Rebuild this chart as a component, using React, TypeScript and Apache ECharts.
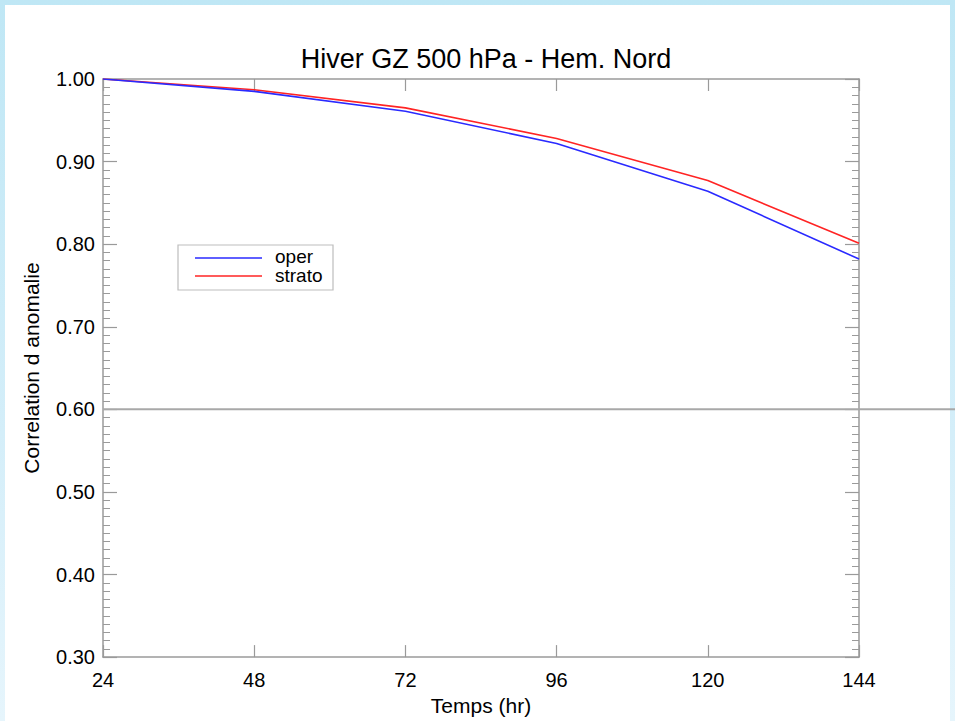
import React, { useEffect, useRef } from "react";
import * as echarts from "echarts";

const hours = [24, 48, 72, 96, 120, 144];
const operValues = [1.0, 0.985, 0.961, 0.922, 0.864, 0.782];
const stratoValues = [1.0, 0.987, 0.965, 0.928, 0.877, 0.801];
const seriesNames = ["oper", "strato"];
const titleText = "Hiver GZ 500 hPa - Hem. Nord";
const xName = "Temps (hr)";
const yName = "Correlation d anomalie";
const refLineValue = 0.6;

const FONT = "'Liberation Sans', Arial, Helvetica, sans-serif";
const AXIS_GRAY = "#9a9a9a";

export default function App() {
  const ref = useRef<HTMLDivElement>(null);

  useEffect(() => {
    if (!ref.current) return;
    const chart = echarts.init(ref.current, undefined, { renderer: "svg" });

    const yCommon = {
      type: "value" as const,
      min: 0.3,
      max: 1.0,
      interval: 0.1,
      splitLine: { show: false },
      axisLine: { show: true, lineStyle: { color: AXIS_GRAY, width: 1.5 } },
      axisTick: { show: true, inside: true, length: 14, lineStyle: { color: AXIS_GRAY, width: 1.2 } },
      minorTick: { show: true, splitNumber: 10, length: 7, lineStyle: { color: AXIS_GRAY, width: 1 } },
      minorSplitLine: { show: false },
    };
    const xCommon = {
      type: "value" as const,
      min: 24,
      max: 144,
      interval: 24,
      splitLine: { show: false },
      axisLine: { show: true, lineStyle: { color: AXIS_GRAY, width: 1.5 } },
      axisTick: { show: true, inside: true, length: 12, lineStyle: { color: AXIS_GRAY, width: 1.2 } },
    };

    const data = (vals: number[]) => hours.map((h, i) => [h, vals[i]]);

    const baseGraphic: any[] = [
      {
        type: "rect",
        z: -10,
        silent: true,
        shape: { x: 5, y: 5, width: 945, height: 716 },
        style: { fill: "#ffffff" },
      },
      {
        type: "rect",
        z: 50,
        shape: { x: 178, y: 245, width: 155, height: 45 },
        style: { fill: "#ffffff", stroke: "#bdbdbd", lineWidth: 1.2 },
      },
      {
        type: "line",
        z: 51,
        shape: { x1: 195, y1: 258, x2: 262, y2: 258 },
        style: { stroke: "#2a2aff", lineWidth: 1.6 },
      },
      {
        type: "line",
        z: 51,
        shape: { x1: 195, y1: 276, x2: 262, y2: 276 },
        style: { stroke: "#ff2424", lineWidth: 1.6 },
      },
      {
        type: "text",
        z: 51,
        x: 275,
        y: 256,
        style: {
          text: seriesNames[0],
          fill: "#000",
          font: `19px ${FONT}`,
          verticalAlign: "middle",
          align: "left",
        },
      },
      {
        type: "text",
        z: 51,
        x: 275,
        y: 275.5,
        style: {
          text: seriesNames[1],
          fill: "#000",
          font: `19px ${FONT}`,
          verticalAlign: "middle",
          align: "left",
        },
      },
    ];

    chart.setOption({
      animation: false,
      backgroundColor: "transparent",
      textStyle: { fontFamily: FONT },
      title: {
        text: titleText,
        left: 481,
        top: 40,
        textAlign: "center",
        textStyle: { fontFamily: FONT, fontSize: 27, fontWeight: "normal", color: "#000" },
      },
      grid: { left: 103, right: 96, top: 79, bottom: 56, containLabel: false },
      xAxis: [
        {
          ...xCommon,
          position: "bottom",
          name: xName,
          nameLocation: "middle",
          nameGap: 32,
          nameTextStyle: { fontFamily: FONT, fontSize: 21, color: "#000" },
          axisLabel: { show: true, margin: 13, fontSize: 20, color: "#000", fontFamily: FONT },
        },
        {
          ...xCommon,
          position: "top",
          axisLabel: { show: false },
        },
      ],
      yAxis: [
        {
          ...yCommon,
          position: "left",
          name: yName,
          nameLocation: "middle",
          nameGap: 61,
          nameTextStyle: { fontFamily: FONT, fontSize: 21, color: "#000" },
          axisLabel: {
            show: true,
            margin: 8,
            fontSize: 20,
            color: "#000",
            fontFamily: FONT,
            formatter: (v: number) => v.toFixed(2),
          },
        },
        {
          ...yCommon,
          position: "right",
          axisLabel: { show: false },
        },
      ],
      series: [
        {
          name: seriesNames[0],
          type: "line",
          xAxisIndex: 0,
          yAxisIndex: 0,
          data: data(operValues),
          showSymbol: false,
          symbol: "none",
          lineStyle: { color: "#2a2aff", width: 1.6 },
          itemStyle: { color: "#2a2aff" },
          z: 5,
        },
        {
          name: seriesNames[1],
          type: "line",
          xAxisIndex: 0,
          yAxisIndex: 0,
          data: data(stratoValues),
          showSymbol: false,
          symbol: "none",
          lineStyle: { color: "#ff2424", width: 1.6 },
          itemStyle: { color: "#ff2424" },
          z: 4,
        },
      ],
      graphic: baseGraphic,
    });

    const yRef = chart.convertToPixel({ yAxisIndex: 0 }, refLineValue) as number;
    const xLeft = chart.convertToPixel({ xAxisIndex: 0 }, hours[0]) as number;
    chart.setOption({
      graphic: [
        ...baseGraphic,
        {
          type: "line",
          z: 3,
          silent: true,
          shape: { x1: xLeft, y1: yRef, x2: 955, y2: yRef },
          style: { stroke: "#a8a8a8", lineWidth: 2 },
        },
      ],
    });

    return () => chart.dispose();
  }, []);

  return (
    <div
      style={{
        position: "fixed",
        left: 0,
        top: 0,
        width: 955,
        height: 721,
        background: "linear-gradient(180deg, #bfe7f5 0%, #d4eef9 60%, #e6f5fc 100%)",
      }}
    >
      <div ref={ref} style={{ width: 955, height: 721 }} />
    </div>
  );
}
